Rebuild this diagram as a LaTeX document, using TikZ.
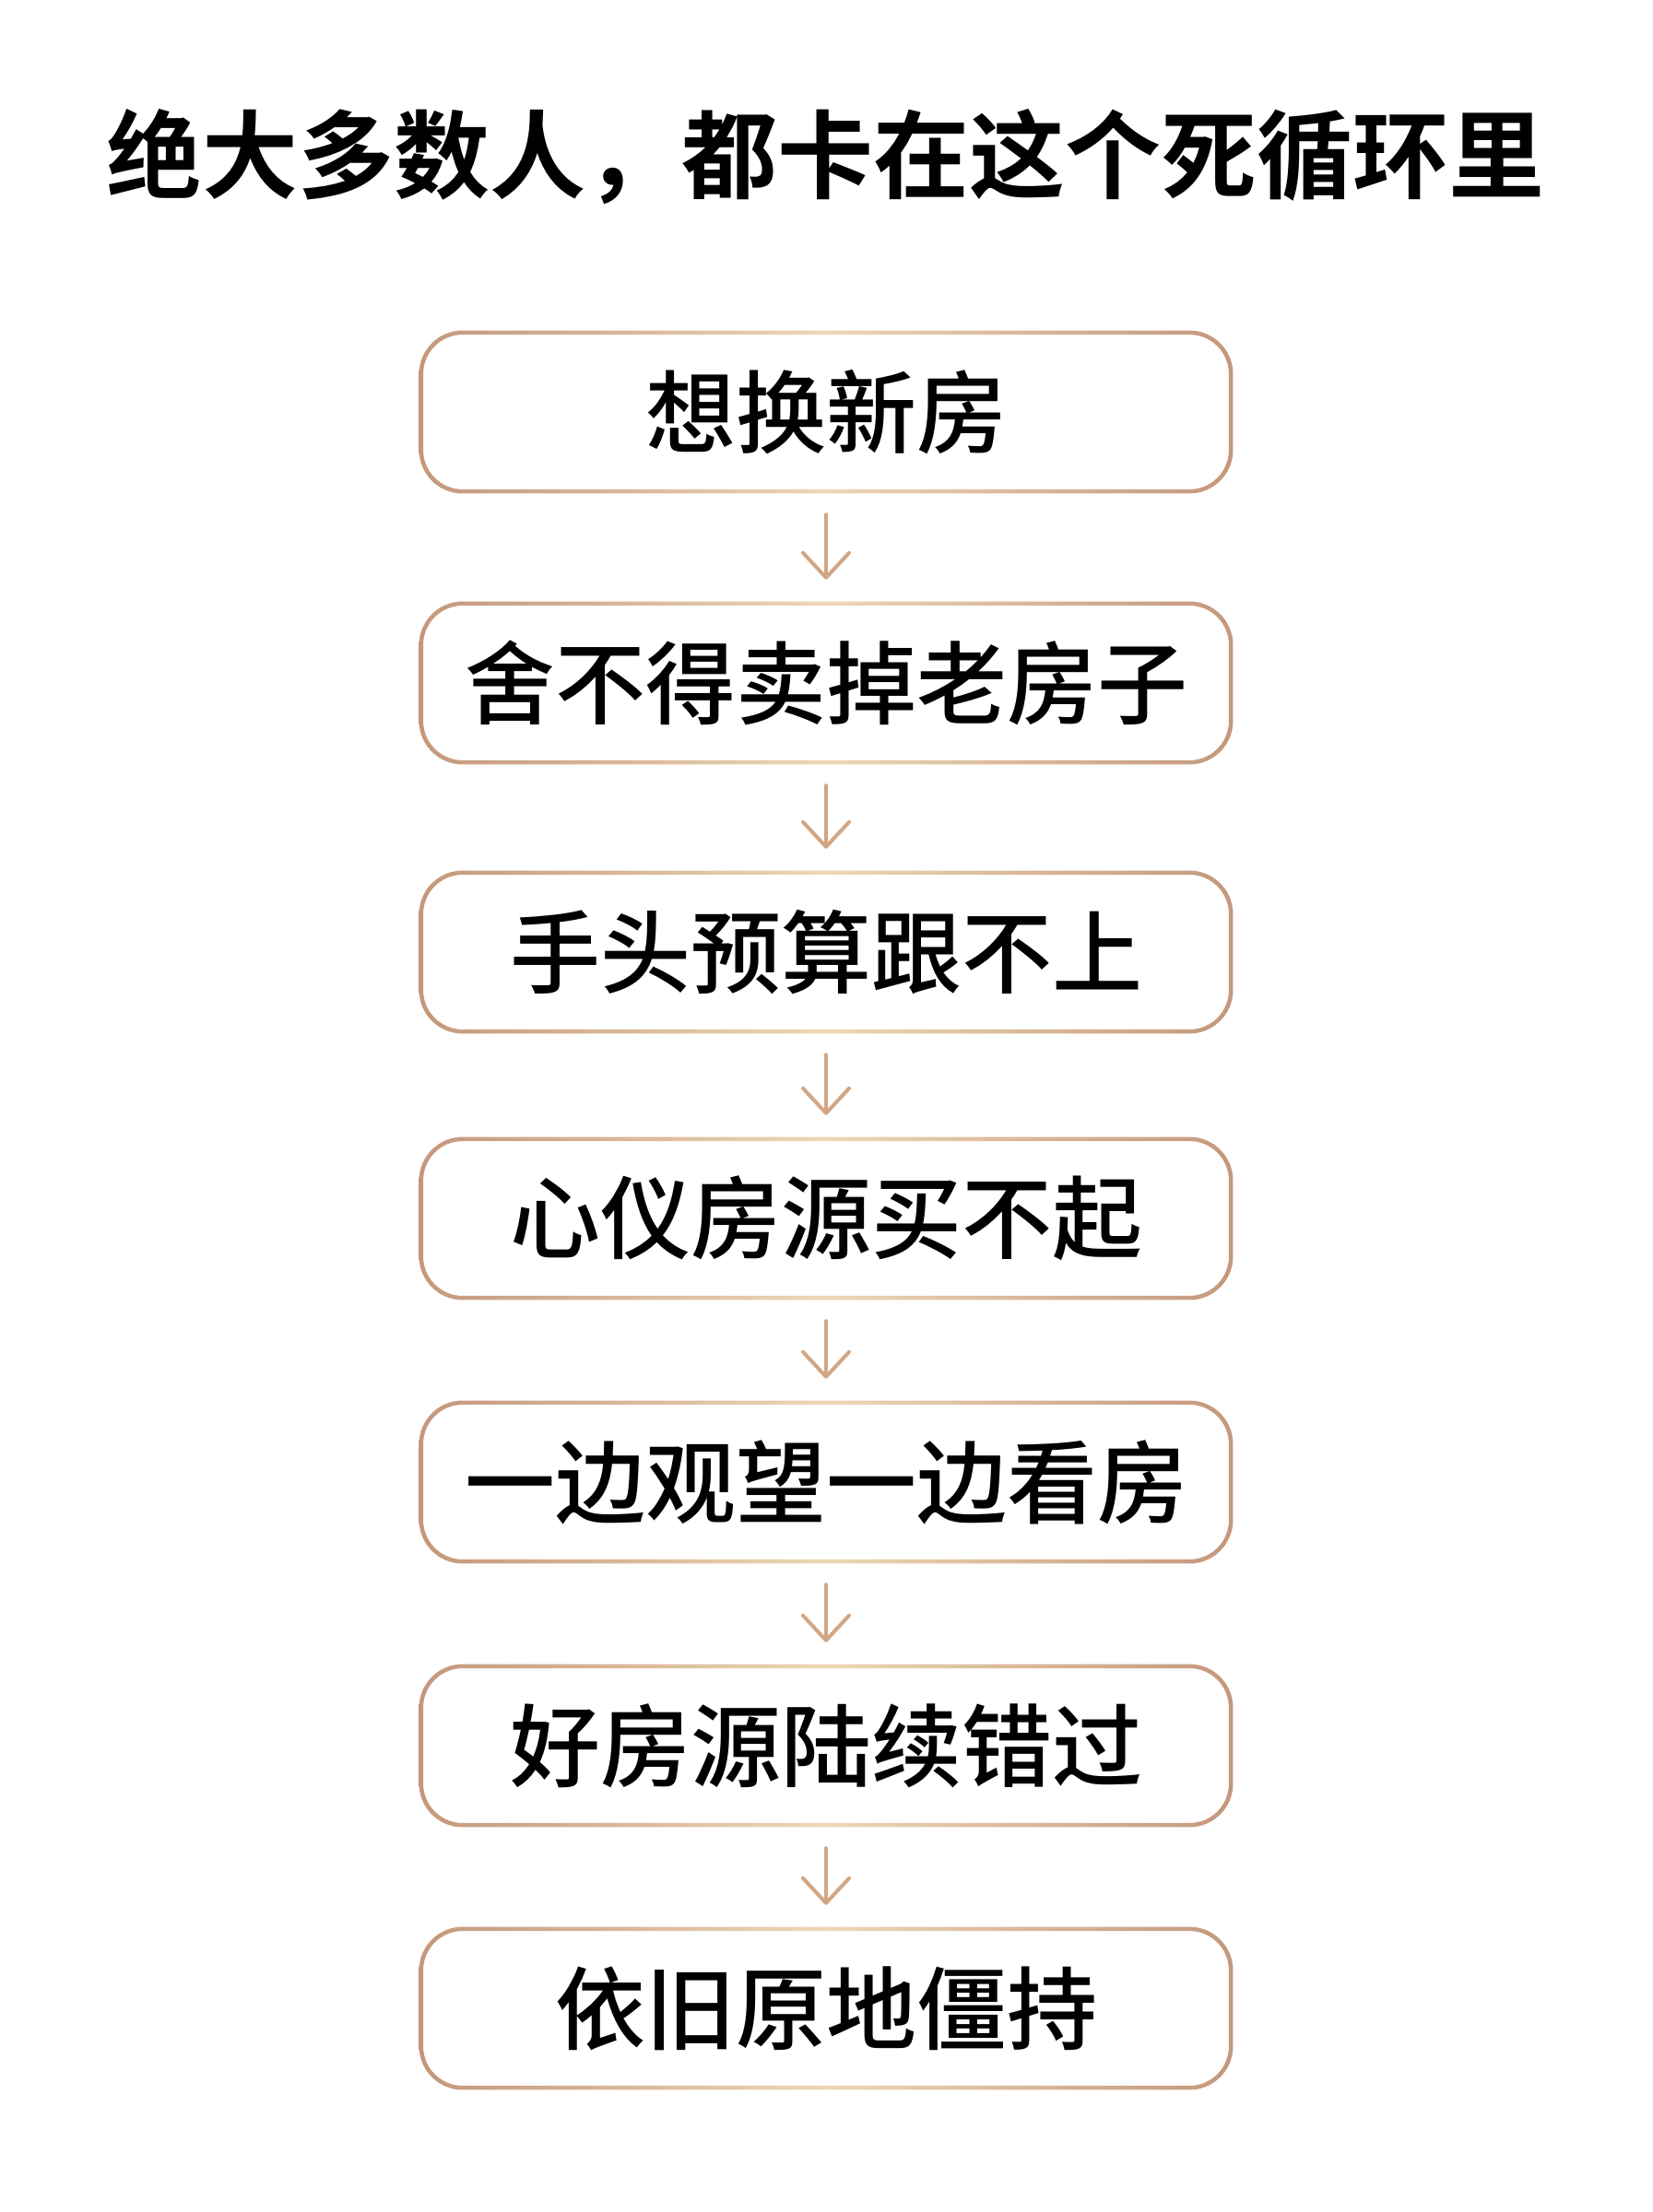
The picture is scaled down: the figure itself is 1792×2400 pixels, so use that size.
\documentclass[tikz,border=0pt]{standalone}
\usepackage{fontspec}
\usetikzlibrary{arrows.meta,calc}
\newfontfamily\cjkb{Noto Sans CJK SC Bold}
\newfontfamily\cjkm{Noto Sans CJK SC Medium}
\definecolor{edgetan}{RGB}{196,151,123}
\definecolor{edgelight}{RGB}{237,215,180}
\definecolor{arrowtan}{RGB}{211,166,131}
\tikzset{
  stepbox/.style={minimum width=878pt, minimum height=172pt, inner sep=0pt,
    font=\cjkm\fontsize{98}{100}\selectfont, text=black},
  titletext/.style={font=\cjkb\fontsize{104}{120}\selectfont, text=black, inner sep=0pt},
  flowarrow/.style={draw=arrowtan, line width=4pt, line cap=round, line join=round,
    -{Straight Barb[length=27pt,width=50pt,line cap=round,line join=round]}}
}
\newcommand\gradring[1]{%
  \shade[even odd rule, left color=edgetan, right color=edgetan, middle color=edgelight]
    [rounded corners=47.25pt] ($(#1.north west)+(-2.25,-2.25)$) rectangle ($(#1.south east)+(2.25,2.25)$)
    [rounded corners=42.75pt] ($(#1.north west)+(2.25,2.25)$) rectangle ($(#1.south east)+(-2.25,-2.25)$);%
}
\begin{document}
\begin{tikzpicture}[x=1pt,y=-1pt]
\useasboundingbox (0,0) rectangle (1792,2400);
\fill[white] (0,0) rectangle (1792,2400);
\node[titletext] (title) at (895,170) {绝大多数人，都卡在这个死循环里};
\node[stepbox] (b1) at (896,447) {想换新房};
\node[stepbox] (b2) at (896,741) {舍不得卖掉老房子};
\node[stepbox] (b3) at (896,1033) {手头预算跟不上};
\node[stepbox] (b4) at (896,1322) {心仪房源买不起};
\node[stepbox] (b5) at (896,1608) {一边观望一边看房};
\node[stepbox] (b6) at (896,1894) {好房源陆续错过};
\node[stepbox] (b7) at (896,2179) {依旧原地僵持};
\foreach \b in {b1,b2,b3,b4,b5,b6,b7}{\gradring{\b}}
\foreach \a/\c in {b1/b2,b2/b3,b3/b4,b4/b5,b5/b6,b6/b7}{
  \draw[flowarrow] ($(\a.south)+(0,25)$) -- ($(\c.north)+(0,-26)$);
}
\end{tikzpicture}
\end{document}
